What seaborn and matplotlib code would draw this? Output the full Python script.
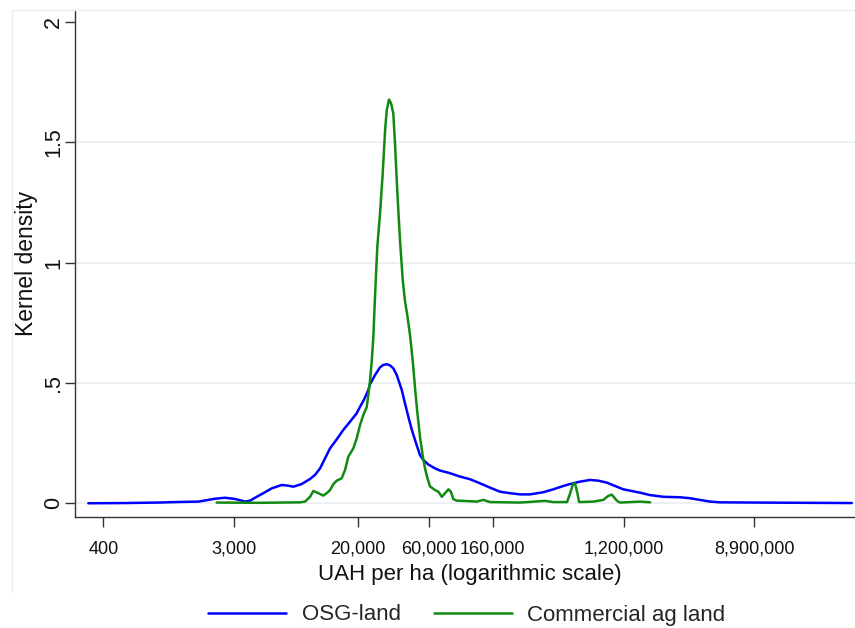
import numpy as np
import pandas as pd
import matplotlib
matplotlib.use("Agg")
import matplotlib.pyplot as plt
from matplotlib.ticker import FixedLocator, NullLocator, FixedFormatter
import seaborn as sns

# Kernel density of land prices, evaluated on ln(UAH per ha)
osg_ln = [5.760, 6.325, 6.837, 7.094, 7.452, 7.606, 7.709, 7.863, 8.017, 8.172,
          8.248, 8.351, 8.452, 8.582, 8.735, 8.837, 8.914, 9.043, 9.171, 9.248,
          9.325, 9.402, 9.478, 9.582, 9.683, 9.786, 9.889, 9.940, 9.991, 10.017,
          10.068, 10.094, 10.171, 10.248, 10.298, 10.351, 10.402, 10.452, 10.505,
          10.582, 10.632, 10.683, 10.735, 10.786, 10.837, 10.863, 10.914, 10.991,
          11.094, 11.171, 11.325, 11.478, 11.632, 11.786, 11.940, 12.094, 12.248,
          12.402, 12.555, 12.760, 12.914, 13.068, 13.171, 13.325, 13.478, 13.606,
          13.735, 13.863, 13.991, 14.120, 14.249, 14.403, 14.606, 14.863, 15.017,
          15.171, 15.325, 15.478, 16.017, 17.505]
osg_density = [0.000, 0.001, 0.003, 0.005, 0.007, 0.014, 0.019, 0.023, 0.018, 0.007,
               0.011, 0.027, 0.042, 0.062, 0.076, 0.073, 0.069, 0.080, 0.101, 0.118,
               0.145, 0.187, 0.228, 0.266, 0.305, 0.339, 0.374, 0.401, 0.425, 0.440,
               0.471, 0.495, 0.533, 0.565, 0.575, 0.578, 0.573, 0.561, 0.533,
               0.471, 0.415, 0.360, 0.307, 0.263, 0.221, 0.200, 0.180, 0.161,
               0.145, 0.136, 0.125, 0.111, 0.100, 0.083, 0.065, 0.048, 0.042,
               0.037, 0.037, 0.046, 0.058, 0.072, 0.080, 0.090, 0.097, 0.094,
               0.086, 0.072, 0.058, 0.051, 0.044, 0.034, 0.027, 0.025, 0.021,
               0.014, 0.007, 0.004, 0.003, 0.001]

ag_ln = [7.735, 8.402, 9.017, 9.094, 9.171, 9.222, 9.299, 9.375, 9.437, 9.478,
         9.529, 9.582, 9.658, 9.709, 9.760, 9.837, 9.889, 9.940, 9.991, 10.043,
         10.068, 10.094, 10.120, 10.145, 10.166, 10.186, 10.206, 10.248, 10.289,
         10.326, 10.351, 10.386, 10.417, 10.452, 10.478, 10.505, 10.529, 10.555,
         10.597, 10.632, 10.668, 10.709, 10.755, 10.786, 10.817, 10.863, 10.909,
         10.940, 10.971, 11.017, 11.094, 11.146, 11.198, 11.249, 11.300, 11.337,
         11.377, 11.428, 11.529, 11.735, 11.837, 11.940, 12.402, 12.786, 12.914,
         13.125, 13.171, 13.217, 13.248, 13.286, 13.311, 13.529, 13.683, 13.755,
         13.812, 13.848, 13.894, 13.940, 14.249, 14.403]
ag_density = [0.003, 0.002, 0.004, 0.007, 0.027, 0.051, 0.042, 0.032, 0.044, 0.055,
              0.079, 0.094, 0.104, 0.138, 0.194, 0.228, 0.270, 0.325, 0.367, 0.400,
              0.450, 0.510, 0.590, 0.690, 0.830, 0.950, 1.066, 1.205, 1.371,
              1.551, 1.634, 1.678, 1.662, 1.620, 1.496, 1.343, 1.218, 1.094,
              0.928, 0.840, 0.780, 0.700, 0.580, 0.480, 0.390, 0.275, 0.190,
              0.145, 0.110, 0.070, 0.055, 0.048, 0.027, 0.042, 0.058, 0.048,
              0.017, 0.011, 0.010, 0.007, 0.014, 0.005, 0.003, 0.010, 0.005,
              0.005, 0.040, 0.080, 0.083, 0.040, 0.005, 0.007, 0.014, 0.030,
              0.036, 0.025, 0.010, 0.003, 0.007, 0.004]

series_names = ["OSG-land", "Commercial ag land"]
x_ticks = [400, 3000, 20000, 60000, 160000, 1200000, 8900000]
y_ticks = [0, 0.5, 1, 1.5, 2]
y_tick_labels = ["0", ".5", "1", "1.5", "2"]

df = pd.concat([
    pd.DataFrame({"uah": np.exp(osg_ln), "density": osg_density, "series": series_names[0]}),
    pd.DataFrame({"uah": np.exp(ag_ln), "density": ag_density, "series": series_names[1]}),
], ignore_index=True)

sns.set_theme(style="white")
plt.rcParams["font.family"] = ["Liberation Sans", "DejaVu Sans"]

W, H = 855, 628
fig = plt.figure(figsize=(W / 100, H / 100), dpi=100)
fig.patch.set_facecolor("white")
ax = fig.add_axes([75 / W, 1 - 517 / H, (W - 75) / W, (517 - 10) / H])

# faint outline of the graph region
fig.add_artist(plt.Line2D([12 / W, 12 / W], [1 - 10 / H, 1 - 592 / H],
                          transform=fig.transFigure, color="#eeeeee", lw=1))
fig.add_artist(plt.Line2D([12 / W, 1], [1 - 10 / H, 1 - 10 / H],
                          transform=fig.transFigure, color="#eeeeee", lw=1))

for yv in y_ticks[:-1]:
    ax.axhline(yv, color="#e6eef1", lw=1.2, zorder=0)

sns.lineplot(data=df, x="uah", y="density", hue="series", hue_order=series_names,
             palette={"OSG-land": "#0000ff", "Commercial ag land": "#128a12"},
             sort=False, estimator=None, lw=1.8, ax=ax)

ax.set_xscale("log")
ax.set_xlim(np.exp(5.555), np.exp(17.555))
ax.set_ylim(-0.057, 2.05)

ax.xaxis.set_major_locator(FixedLocator(x_ticks))
ax.xaxis.set_major_formatter(FixedFormatter([f"{v:,}" for v in x_ticks]))
ax.xaxis.set_minor_locator(NullLocator())
ax.set_yticks(y_ticks)
ax.set_yticklabels(y_tick_labels, rotation=90, va="center")

for side in ["top", "right"]:
    ax.spines[side].set_visible(False)
for side in ["left", "bottom"]:
    ax.spines[side].set_color("#333333")
    ax.spines[side].set_linewidth(1.0)

ax.tick_params(axis="x", which="major", length=7, width=1, color="#333333",
               labelsize=13, pad=10, labelcolor="#111111", bottom=True)
ax.tick_params(axis="y", which="major", length=7, width=1, color="#333333",
               labelsize=15.5, pad=1, labelcolor="#111111", left=True)

ax.set_xlabel("UAH per ha (logarithmic scale)", fontsize=16, color="#111111")
ax.set_ylabel("Kernel density", fontsize=16.5, color="#111111")
ax.xaxis.set_label_coords((470 - 75) / (W - 75), (517 - 564) / 507)
ax.yaxis.set_label_coords((38 - 75) / (W - 75), 0.5)

handles, labels = ax.get_legend_handles_labels()
ax.legend(handles, labels, loc="center", bbox_to_anchor=(467 / W, 1 - 615 / H),
          bbox_transform=fig.transFigure, ncol=2, frameon=False, fontsize=16,
          handlelength=3.5, handletextpad=0.7, columnspacing=1.5)

fig.savefig("out.png", dpi=100)
